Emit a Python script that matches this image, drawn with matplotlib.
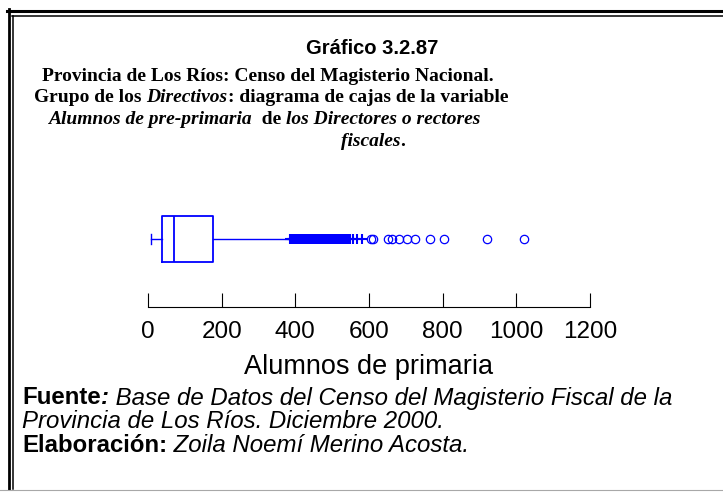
import matplotlib
matplotlib.use("Agg")
import matplotlib.pyplot as plt
from matplotlib.lines import Line2D

# box plot summary (Alumnos de primaria)
whisker_low = 8
q1 = 39
median = 71
q3 = 177
whisker_high = 380
# near outliers (+) and far outliers (o)
near_outliers = [385, 390, 393, 398, 402, 405, 410, 413, 418, 420, 425, 430,
                 432, 436, 440, 445, 448, 450, 455, 460, 462, 466, 470, 475,
                 478, 482, 487, 490, 495, 500, 505, 510, 515, 520, 526, 532,
                 537, 542, 548, 556, 567, 580]
far_outliers = [605, 612, 652, 662, 681, 702, 725, 766, 803, 920, 1021]
xticks = [0, 200, 400, 600, 800, 1000, 1200]

W, H = 723, 492
BLUE = (0, 0, 1)

fig = plt.figure(figsize=(W / 100, H / 100), dpi=100)
renderer = fig.canvas.get_renderer()


def px(x, y):
    return x / W, 1 - y / H


def text_width(s, **kw):
    # width including leading/trailing spaces
    t1 = fig.text(0, 0, s + "|", **kw)
    t2 = fig.text(0, 0, "|", **kw)
    w = t1.get_window_extent(renderer).width - t2.get_window_extent(renderer).width
    t1.remove()
    t2.remove()
    return w


def draw_line(pieces, y, family, size, x=None, center=None):
    widths = [text_width(s, family=family, size=size, weight=wt, style=st)
              for s, wt, st in pieces]
    if center is not None:
        x = center - sum(widths) / 2
    for (s, wt, st), w in zip(pieces, widths):
        fig.text(*px(x, y), s, family=family, size=size, weight=wt, style=st,
                 ha="left", va="center")
        x += w


# frame
fig.add_artist(Line2D([7 / W, 1], [1 - 10.5 / H] * 2, color="black", lw=2.2,
                      transform=fig.transFigure))
fig.add_artist(Line2D([12 / W, 1], [1 - 16 / H] * 2, color="black", lw=1.1,
                      transform=fig.transFigure))
fig.add_artist(Line2D([8.5 / W] * 2, [1 - 9 / H, 1 - 489 / H], color="black",
                      lw=2.0, transform=fig.transFigure))
fig.add_artist(Line2D([13 / W] * 2, [1 - 15.5 / H, 1 - 489 / H], color="black",
                      lw=1.1, transform=fig.transFigure))
fig.add_artist(Line2D([0, 1], [1 - 489.5 / H] * 2, color="#a8a8a8", lw=0.8,
                      transform=fig.transFigure))

# titles
fig.text(*px(372, 48), "Gráfico 3.2.87", family="Liberation Sans",
         weight="bold", size=14.5, ha="center", va="center")
serif = "Liberation Serif"
ts = 14
draw_line([("Provincia de Los Ríos: Censo del Magisterio Nacional.", "bold", "normal")],
          76, serif, ts, center=268)
draw_line([("Grupo de los ", "bold", "normal"), ("Directivos", "bold", "italic"),
           (": diagrama de cajas de la variable", "bold", "normal")],
          98, serif, ts, center=271)
draw_line([("Alumnos de pre-primaria", "bold", "italic"), ("  de ", "bold", "normal"),
           ("los Directores o rectores", "bold", "italic")],
          120, serif, ts, center=264)
draw_line([("fiscales", "bold", "italic"), (".", "bold", "normal")],
          141, serif, ts, center=373)

# footer
sans = "Liberation Sans"
fs = 17.3
draw_line([("Fuente", "bold", "normal"), (":", "bold", "italic"),
           (" Base de Datos del Censo del Magisterio Fiscal de la", "normal", "italic")],
          398, sans, fs, x=22)
draw_line([("Provincia de Los Ríos. Diciembre 2000.", "normal", "italic")],
          422, sans, fs, x=22)
draw_line([("Elaboración:", "bold", "normal"),
           (" Zoila Noemí Merino Acosta.", "normal", "italic")],
          446, sans, fs, x=22)

# box plot axes
ax = fig.add_axes([148 / W, (H - 307) / H, 442 / W, 107 / H])
ax.set_xlim(0, 1200)
ax.set_ylim(0, 1)
pos = 0.636
stats = [dict(whislo=whisker_low, q1=q1, med=median, q3=q3,
              whishi=whisker_high, fliers=[])]
bp = ax.bxp(stats, positions=[pos], widths=0.43, vert=False,
            showfliers=False, capwidths=0.1,
            boxprops=dict(color=BLUE, lw=1.3),
            medianprops=dict(color=BLUE, lw=1.3),
            whiskerprops=dict(color=BLUE, lw=1.0),
            capprops=dict(color=BLUE, lw=1.0))
bp["caps"][1].set_visible(False)
ax.plot(near_outliers, [pos] * len(near_outliers), ls="none", marker="+",
        ms=7.5, mew=1.5, color=BLUE)
ax.plot(far_outliers, [pos] * len(far_outliers), ls="none", marker="o",
        ms=6, mew=0.9, mfc="none", mec=BLUE)

for s in ["top", "left", "right"]:
    ax.spines[s].set_visible(False)
ax.spines["bottom"].set_linewidth(0.8)
ax.set_yticks([])
ax.set_xticks(xticks)
ax.tick_params(axis="x", direction="in", length=10, width=0.8, pad=10,
               labelsize=17.5)
for lab in ax.get_xticklabels():
    lab.set_family(sans)
ax.set_xlabel("Alumnos de primaria", family=sans, size=19.5, labelpad=8)

fig.savefig("out.png", dpi=100)
